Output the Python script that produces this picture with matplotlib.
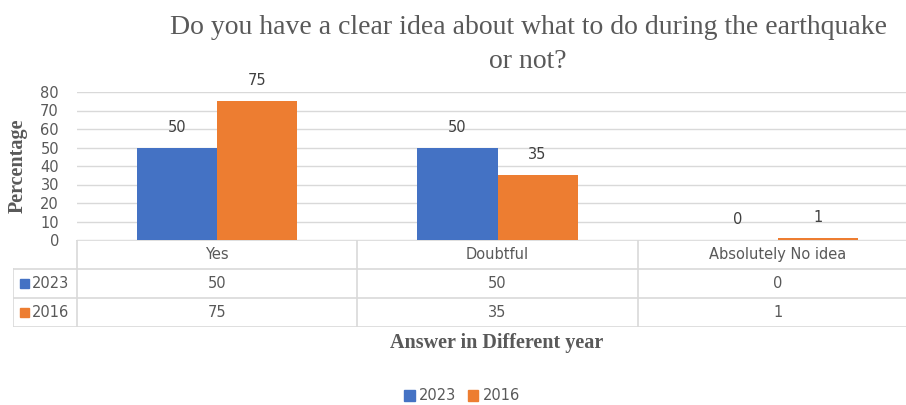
import numpy as np
import matplotlib.pyplot as plt
from matplotlib.patches import Rectangle

# data
categories = ["Yes", "Doubtful", "Absolutely No idea"]
years = ["2023", "2016"]
vals_2023 = [50, 50, 0]
vals_2016 = [75, 35, 1]

BLUE = "#4472C4"
ORANGE = "#ED7D31"
GRID = "#d9d9d9"
TXT = "#595959"
SANS = ["Liberation Sans Narrow", "DejaVu Sans"]
SERIF = ["Liberation Serif", "DejaVu Serif"]

W, H = 906, 405
fig = plt.figure(figsize=(W / 100, H / 100), dpi=100)

# bar axes (plot area runs a bit past the right edge, as in the original)
x0, x1 = 77, 918
left, right = x0 / W, x1 / W
ax = fig.add_axes([left, 1 - 240 / H, right - left, (240 - 92) / H])
x = np.arange(len(categories)) + 0.5
bw = 0.286
b1 = ax.bar(x - bw / 2, vals_2023, bw, color=BLUE, zorder=3)
b2 = ax.bar(x + bw / 2, vals_2016, bw, color=ORANGE, zorder=3)
for bars, vals in ((b1, vals_2023), (b2, vals_2016)):
    for b, v in zip(bars, vals):
        ax.text(b.get_x() + b.get_width() / 2, v + 11, str(v),
                ha="center", va="center", fontsize=10.5, color="#404040",
                family=SANS)

ax.set_xlim(0, 3)
ax.set_ylim(0, 80)
ax.set_yticks(range(0, 81, 10))
ax.yaxis.grid(True, color=GRID, lw=1, zorder=0)
ax.tick_params(axis="y", length=0, labelsize=10.5, labelcolor=TXT, pad=13)
for lab in ax.get_yticklabels():
    lab.set_family(SANS)
ax.set_xticks([])
for s in ax.spines.values():
    s.set_visible(False)

# data table under the axes
tl = 13
tab = fig.add_axes([tl / W, 1 - 327 / H, (x1 - tl) / W, (327 - 240) / H])
lc = -(x0 - tl) / ((x1 - x0) / 3)
tab.set_xlim(lc, 3)
tab.set_ylim(0, 3)
tab.axis("off")
tab.plot([0, 3], [3, 3], color=GRID, lw=1.2)
for yy in (0, 1, 2):
    tab.plot([lc, 3], [yy, yy], color=GRID, lw=1.2)
for xx in (0, 1, 2, 3):
    tab.plot([xx, xx], [0, 3], color=GRID, lw=1.2)
tab.plot([lc, lc], [0, 2], color=GRID, lw=1.2)

for i, c in enumerate(categories):
    tab.text(i + 0.5, 2.5, c, ha="center", va="center", fontsize=10.5,
             color=TXT, family=SANS)
px = 1 / ((x1 - x0) / 3)
py = 3 / (327 - 240)
for r, (yr, vals, col) in enumerate(((years[0], vals_2023, BLUE),
                                     (years[1], vals_2016, ORANGE))):
    yc = 1.5 - r
    tab.add_patch(Rectangle((lc + 7 * px, yc - 4.5 * py), 9 * px, 9 * py,
                            color=col))
    tab.text(lc + 19 * px, yc, yr, ha="left", va="center", fontsize=10.5,
             color=TXT, family=SANS)
    for i, v in enumerate(vals):
        tab.text(i + 0.5, yc, str(v), ha="center", va="center",
                 fontsize=10.5, color=TXT, family=SANS)

# titles and labels
fig.text(528 / W, 1 - 28 / H, "Do you have a clear idea about what to do during the earthquake",
         ha="center", va="center", fontsize=20, color=TXT, family=SERIF)
fig.text(528 / W, 1 - 61 / H, "or not?", ha="center", va="center",
         fontsize=20, color=TXT, family=SERIF)
fig.text(18 / W, 1 - 166 / H, "Percentage", rotation=90, ha="center",
         va="center", fontsize=14.5, fontweight="bold", color=TXT, family=SERIF)
fig.text(497 / W, 1 - 343 / H, "Answer in Different year", ha="center",
         va="center", fontsize=14.5, fontweight="bold", color=TXT, family=SERIF)

# legend
lg = fig.legend(handles=[Rectangle((0, 0), 1, 1, color=BLUE),
                         Rectangle((0, 0), 1, 1, color=ORANGE)],
                labels=years, loc="center", bbox_to_anchor=(462 / W, 1 - 396 / H),
                ncol=2, frameon=False, handlelength=0.7, handleheight=0.7,
                handletextpad=0.3, columnspacing=0.8,
                prop={"family": SANS, "size": 10.5})
for t in lg.get_texts():
    t.set_color(TXT)

fig.savefig("out.png", dpi=100)
